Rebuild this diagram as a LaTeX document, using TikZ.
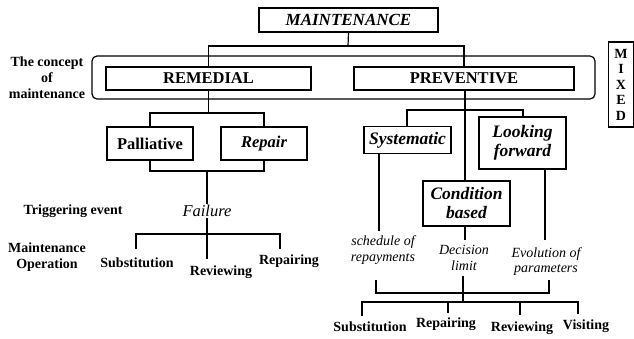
\documentclass[tikz,border=0pt]{standalone}
\usepackage{fontspec}
\setmainfont{Liberation Serif}
\begin{document}
\begin{tikzpicture}[x=1pt,y=-1pt,
  every path/.style={line width=1.2pt},
  bx/.style={draw,line width=1.2pt,inner sep=0pt,align=center},
  big/.style={font=\fontsize{16.5}{18}\selectfont\bfseries},
  bigi/.style={font=\fontsize{16.5}{18}\selectfont\bfseries\itshape},
  prei/.style={font=\fontsize{17.5}{19}\selectfont\bfseries\itshape},
  lbl/.style={font=\fontsize{14}{16}\selectfont\bfseries,align=center,inner sep=1pt},
  ital/.style={font=\fontsize{14}{15.5}\selectfont\itshape,align=center,inner sep=1pt}]
\useasboundingbox (0,0) rectangle (634,338);
% top
\node[bx,font=\fontsize{17}{19}\selectfont\bfseries\itshape,minimum width=179pt,minimum height=24pt] (M) at (348.5,20) {MAINTENANCE};
\draw[rounded corners=5pt] (92,56) rectangle (595,99);
\node[bx,big,minimum width=205pt,minimum height=23pt] (R) at (208.5,78.5) {REMEDIAL};
\node[bx,big,minimum width=220pt,minimum height=23pt] (P) at (464,78.5) {PREVENTIVE};
\node[bx,font=\fontsize{14}{15.5}\selectfont\bfseries,minimum width=25pt,minimum height=85pt] (X) at (621,84.5) {M\\I\\X\\E\\D};
\node[lbl] (concept) at (47,78) {The concept\\of\\maintenance};
\coordinate (jM) at (348,46);
\draw (M.south) -- (jM);
\draw (R.north) -- (R.north |- jM) -- (P.north |- jM) -- (P.north);
% remedial
\node[bx,big,minimum width=86pt,minimum height=33pt] (Pa) at (150,143.5) {Palliative};
\node[bx,bigi,minimum width=86pt,minimum height=33pt] (Re) at (264,143.5) {Repair};
\coordinate (jR) at (208.5,113);
\draw (R.south) -- (jR);
\draw (Pa.north) -- (Pa.north |- jR) -- (Re.north |- jR) -- (Re.north);
\coordinate (jR2) at (207,171);
\node[font=\fontsize{16.5}{18}\selectfont\itshape,inner sep=1pt] (F) at (207,211) {Failure};
\draw (Pa.south) -- (Pa.south |- jR2) -- (Re.south |- jR2) -- (Re.south);
\draw (jR2) -- (F.north);
\node[lbl,anchor=west] (trig) at (22,211) {Triggering event};
\node[lbl] (mop) at (47,257) {Maintenance\\Operation};
\coordinate (jF) at (207,234);
\node[lbl] (s1) at (137,263) {Substitution};
\node[lbl] (v1) at (221,272) {Reviewing};
\node[lbl] (r1) at (289,261) {Repairing};
\draw (F.south) -- (jF);
\draw (136,249) -- (136,234) -- (280,234) -- (280,249);
\draw (jF) -- (207,259);
% preventive
\node[bx,prei,minimum width=87pt,minimum height=27pt] (Sy) at (407.5,140) {Systematic};
\node[bx,prei,minimum width=87pt,minimum height=52pt] (LF) at (522.5,143) {Looking\\forward};
\node[bx,prei,minimum width=87pt,minimum height=45pt] (CB) at (466.5,203.5) {Condition\\based};
\coordinate (jP) at (465,110);
\draw (P.south -| jP) -- (jP);
\draw (407,127) -- (407,110) -- (523,110) -- (523,117);
\draw (jP) -- (jP |- CB.north);
\node[ital] (sch) at (383,250) {schedule of\\repayments};
\node[ital] (dec) at (464,258) {Decision\\limit};
\node[ital] (evo) at (546,261.5) {Evolution of\\parameters};
\draw (379,153) -- (379 ,231);
\draw (545,169) -- (545,240);
\draw (465,226) -- (465,240);
\draw (376,280) -- (376,293) -- (549,293) -- (549,280);
\draw (463,276) -- (463,302);
\draw (362,316) -- (362,302) -- (578,302) -- (578,314);
\draw (448,302) -- (448,313);
\draw (520,302) -- (520,315);
\node[lbl] (s2) at (370,327) {Substitution};
\node[lbl] (r2) at (446,324) {Repairing};
\node[lbl] (v2) at (522,328) {Reviewing};
\node[lbl] (vi) at (586,326) {Visiting};
\end{tikzpicture}
\end{document}
